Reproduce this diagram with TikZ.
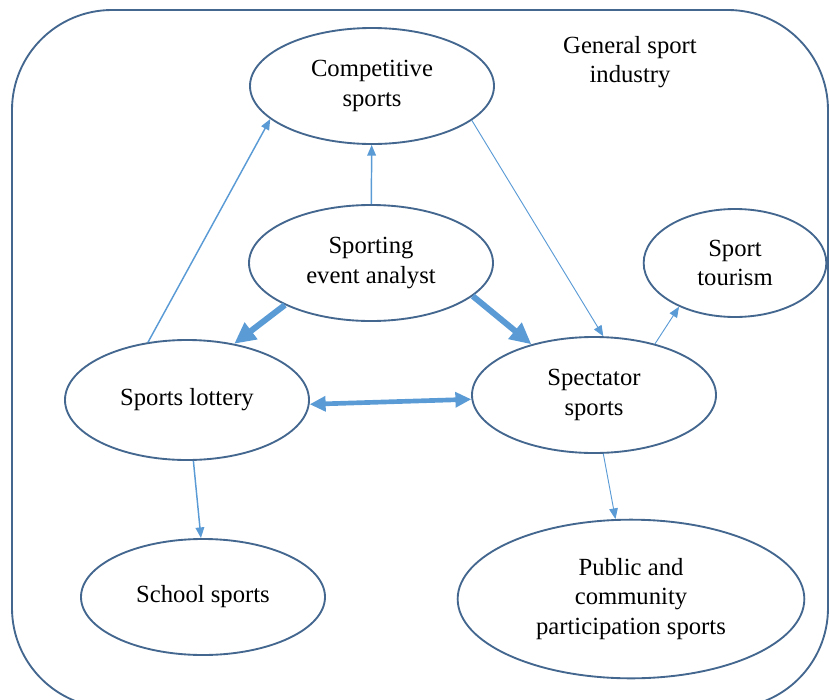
\documentclass[tikz,border=0pt]{standalone}
\usepackage{fontspec}
\setmainfont{Liberation Serif}
\usepackage{xcolor}
\definecolor{edgeblue}{RGB}{68,103,143}
\definecolor{arrowblue}{RGB}{91,155,213}
\usepackage{tikz}
\usetikzlibrary{shapes.geometric}
\usetikzlibrary{arrows.meta}
\newcommand{\widthbubble}{183pt}
\newcommand{\heightbubble}{87pt}
\tikzset{
    caption/.style={font=\fontsize{18.5}{22}\selectfont, align=center},
    bubble/.style={caption, draw=edgeblue, line width=1.4pt, ellipse, inner sep=0pt, minimum width=\widthbubble, minimum height=\heightbubble},
    small-bubble/.style={bubble, minimum width=137pt, minimum height=81pt},
    big-bubble/.style={bubble, minimum width=260pt, minimum height=119pt},
    link/.style={draw=arrowblue, line width=1.1pt, -{Triangle[length=8pt, width=6.5pt]}},
    thin-link/.style={link, line width=0.7pt},
    heavy-link/.style={draw=arrowblue, line width=4.5pt, -{Triangle[length=16pt, width=15pt]}},
    both-link/.style={draw=arrowblue, line width=3.5pt, {Triangle[length=12pt, width=11pt]}-{Triangle[length=12pt, width=11pt]}}
}

\begin{document}
\begin{tikzpicture}[x=0.75pt, y=-0.75pt]
      \clip (0,0) rectangle (829,700);
      \draw[edgeblue, line width=1.4pt, rounded corners=75pt] (12,10) rectangle (828,708);

      \path
          (372,86) node[bubble] (competitive) {Competitive\\sports}
          (371,263) node[bubble] (analyst) {Sporting\\event analyst}
          (735,263) node[small-bubble] (tourism) {Sport\\tourism}
          (187,400) node[bubble, minimum height=90pt] (lottery) {Sports lottery}
          (594,395) node[bubble] (spectator) {Spectator\\sports}
          (203,597) node[bubble] (school) {School sports}
          (631,599) node[big-bubble] (public) {Public and\\community\\participation sports}
          (630,62) node[caption] (industry) {General sport\\industry};

      \draw[link] (analyst) -- (competitive);
      \draw[link] (lottery.124) -- (competitive.198);
      \draw[thin-link] (competitive.-19) -- (spectator.81);
      \draw[heavy-link] (analyst.206) -- (lottery.50);
      \draw[heavy-link] (analyst.-18) -- (spectator.141);
      \draw[thin-link] (spectator.40) -- (tourism.218);
      \draw[both-link] (lottery.-2) -- (spectator.182);
      \draw[link] (lottery.-84) -- (school.92);
      \draw[thin-link] (spectator.-81) -- (public.101);
\end{tikzpicture}
\end{document}
